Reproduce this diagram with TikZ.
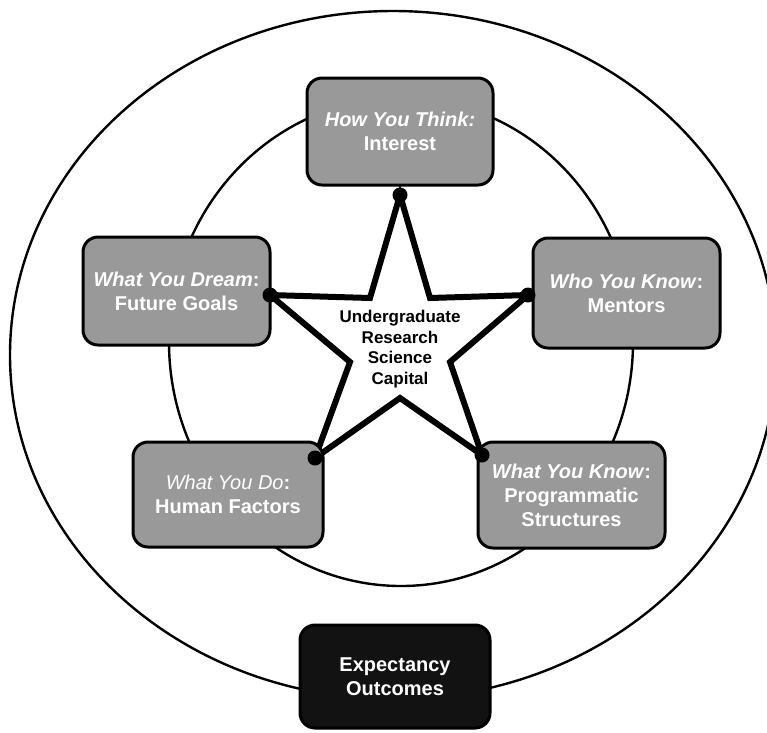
\documentclass[tikz,border=0pt]{standalone}
\usepackage{fontspec}
\setmainfont{Liberation Sans}
\definecolor{boxgray}{RGB}{153,153,153}
\definecolor{darkbox}{RGB}{18,18,18}
\tikzset{
  ring/.style={draw=black, line width=2.4pt},
  capbox/.style={draw=black, line width=3pt, fill=boxgray, rounded corners=15pt,
    text=white, align=center, font=\fontsize{20}{24}\selectfont\bfseries,
    inner sep=0pt},
  outbox/.style={capbox, fill=darkbox},
  starline/.style={draw=black, line width=6pt, line join=miter, fill=white},
  joint/.style={fill=black},
  startext/.style={align=center, font=\fontsize{17}{20.5}\selectfont\bfseries}
}
\begin{document}
\begin{tikzpicture}[x=1pt, y=-1pt]
\useasboundingbox (0,0) rectangle (767,732);

% rings
\draw[ring] (393,355) ellipse [x radius=383, y radius=344];
\draw[ring] (401,342) ellipse [x radius=232, y radius=244];

% star points
\coordinate (pT) at (400,195);
\coordinate (pL) at (270,295);
\coordinate (pR) at (528,295);
\coordinate (pBL) at (315,458);
\coordinate (pBR) at (482,455);
\coordinate (iUL) at (370,298);
\coordinate (iUR) at (430,298);
\coordinate (iL) at (350,362);
\coordinate (iR) at (450,362);
\coordinate (iB) at (400,398);

\draw[starline] (pT) -- (iUR) -- (pR) -- (iR) -- (pBR) -- (iB) -- (pBL) -- (iL) -- (pL) -- (iUL) -- cycle;
\node[startext] (core) at (400,349) {Undergraduate\\Research\\Science\\Capital};

% boxes
\node[capbox, minimum width=186pt, minimum height=107pt] (think) at (400,131.5)
  {\textit{How You Think:}\\Interest};
\node[capbox, minimum width=187pt, minimum height=108pt] (dream) at (176.5,291)
  {\textit{What You Dream}:\\Future Goals};
\node[capbox, minimum width=187pt, minimum height=110pt] (know) at (626.5,293)
  {\textit{Who You Know}:\\Mentors};
\node[capbox, minimum width=190pt, minimum height=105pt] (doing) at (228,494.5)
  {\textit{\mdseries What You Do}:\\Human Factors};
\node[capbox, minimum width=187pt, minimum height=106pt] (prog) at (571.5,495)
  {\textit{What You Know}:\\Programmatic\\Structures};
\node[outbox, minimum width=190pt, minimum height=103pt] (outc) at (395,676.5)
  {Expectancy\\Outcomes};

% joints where the star meets the boxes
\foreach \p in {pT,pL,pR,pBL,pBR}
  \fill[joint] (\p) circle [radius=7.5];
\end{tikzpicture}
\end{document}
